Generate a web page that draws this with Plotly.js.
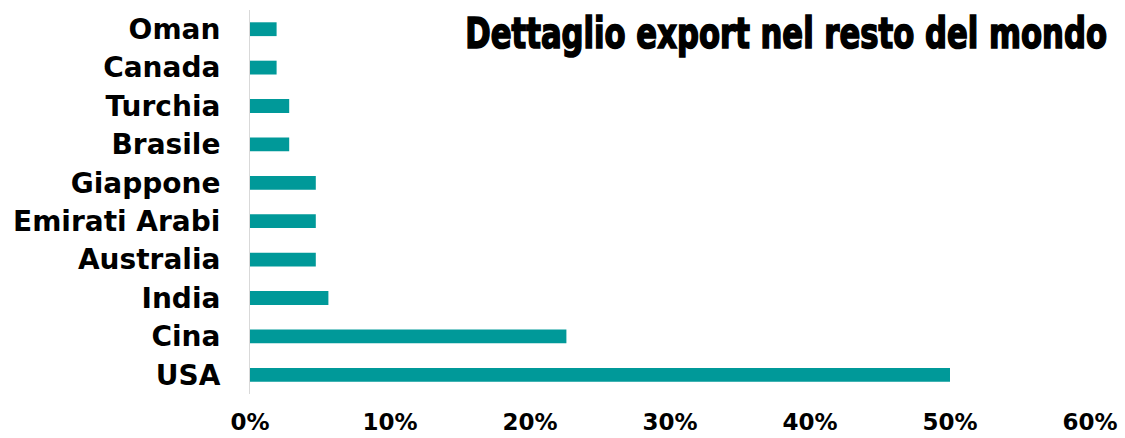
<!DOCTYPE html>
<html>
<head>
<meta charset="utf-8">
<script src="https://cdn.plot.ly/plotly-3.0.1.min.js"></script>
<style>html,body{margin:0;padding:0;background:#fff;}#chart{width:1125px;height:438px;}</style>
</head>
<body>
<div id="chart"></div>
<script>
const countries = ["USA", "Cina", "India", "Australia", "Emirati Arabi", "Giappone", "Brasile", "Turchia", "Canada", "Oman"];
const shares = [0.500, 0.226, 0.056, 0.047, 0.047, 0.047, 0.028, 0.028, 0.019, 0.019];
const xTicks = [0, 0.1, 0.2, 0.3, 0.4, 0.5, 0.6];
const titleText = "Dettaglio export nel resto del mondo";

const trace = {
  type: "bar",
  orientation: "h",
  y: countries,
  x: shares,
  marker: {color: "#009999"},
  hoverinfo: "x+y"
};

const layout = {
  width: 1125,
  height: 438,
  margin: {l: 250, r: 35, t: 10, b: 44},
  paper_bgcolor: "#ffffff",
  plot_bgcolor: "#ffffff",
  bargap: 0.64,
  showlegend: false,
  title: {
    text: titleText,
    font: {family: "DejaVu Sans Condensed, Liberation Sans Narrow, sans-serif", size: 42, color: "#000000", weight: 700},
    xref: "container", yref: "container",
    x: 0.984, xanchor: "right",
    y: 0.925, yanchor: "middle"
  },
  xaxis: {
    range: [0, 0.6],
    tickvals: xTicks,
    tickformat: ".0%",
    showgrid: false,
    zeroline: false,
    showline: false,
    ticks: "",
    ticklabelstandoff: 12,
    tickfont: {family: "DejaVu Sans, Verdana, sans-serif", size: 23, color: "#000000", weight: 700}
  },
  yaxis: {
    type: "category",
    range: [-0.5, 9.5],
    showgrid: false,
    zeroline: false,
    showline: true,
    linecolor: "#d9d9d9",
    linewidth: 1,
    ticks: "",
    ticklabelstandoff: 23,
    tickfont: {family: "DejaVu Sans, Verdana, sans-serif", size: 28, color: "#000000", weight: 700}
  }
};

Plotly.newPlot("chart", [trace], layout, {displayModeBar: false, staticPlot: true}).then(function (gd) {
  // squeeze the title horizontally to mimic a heavy condensed face
  const t = gd.querySelector(".gtitle");
  if (t) {
    const bb = t.getBBox();
    const right = 1107, left = 465;
    const s = (right - left) / bb.width;
    const xr = bb.x + bb.width;
    t.setAttribute("transform", "translate(" + right + ",0) scale(" + s + ",1) translate(" + (-xr) + ",0)");
    t.style.stroke = "#000000";
    t.style.strokeWidth = "1.6px";
  }
});
</script>
</body>
</html>
